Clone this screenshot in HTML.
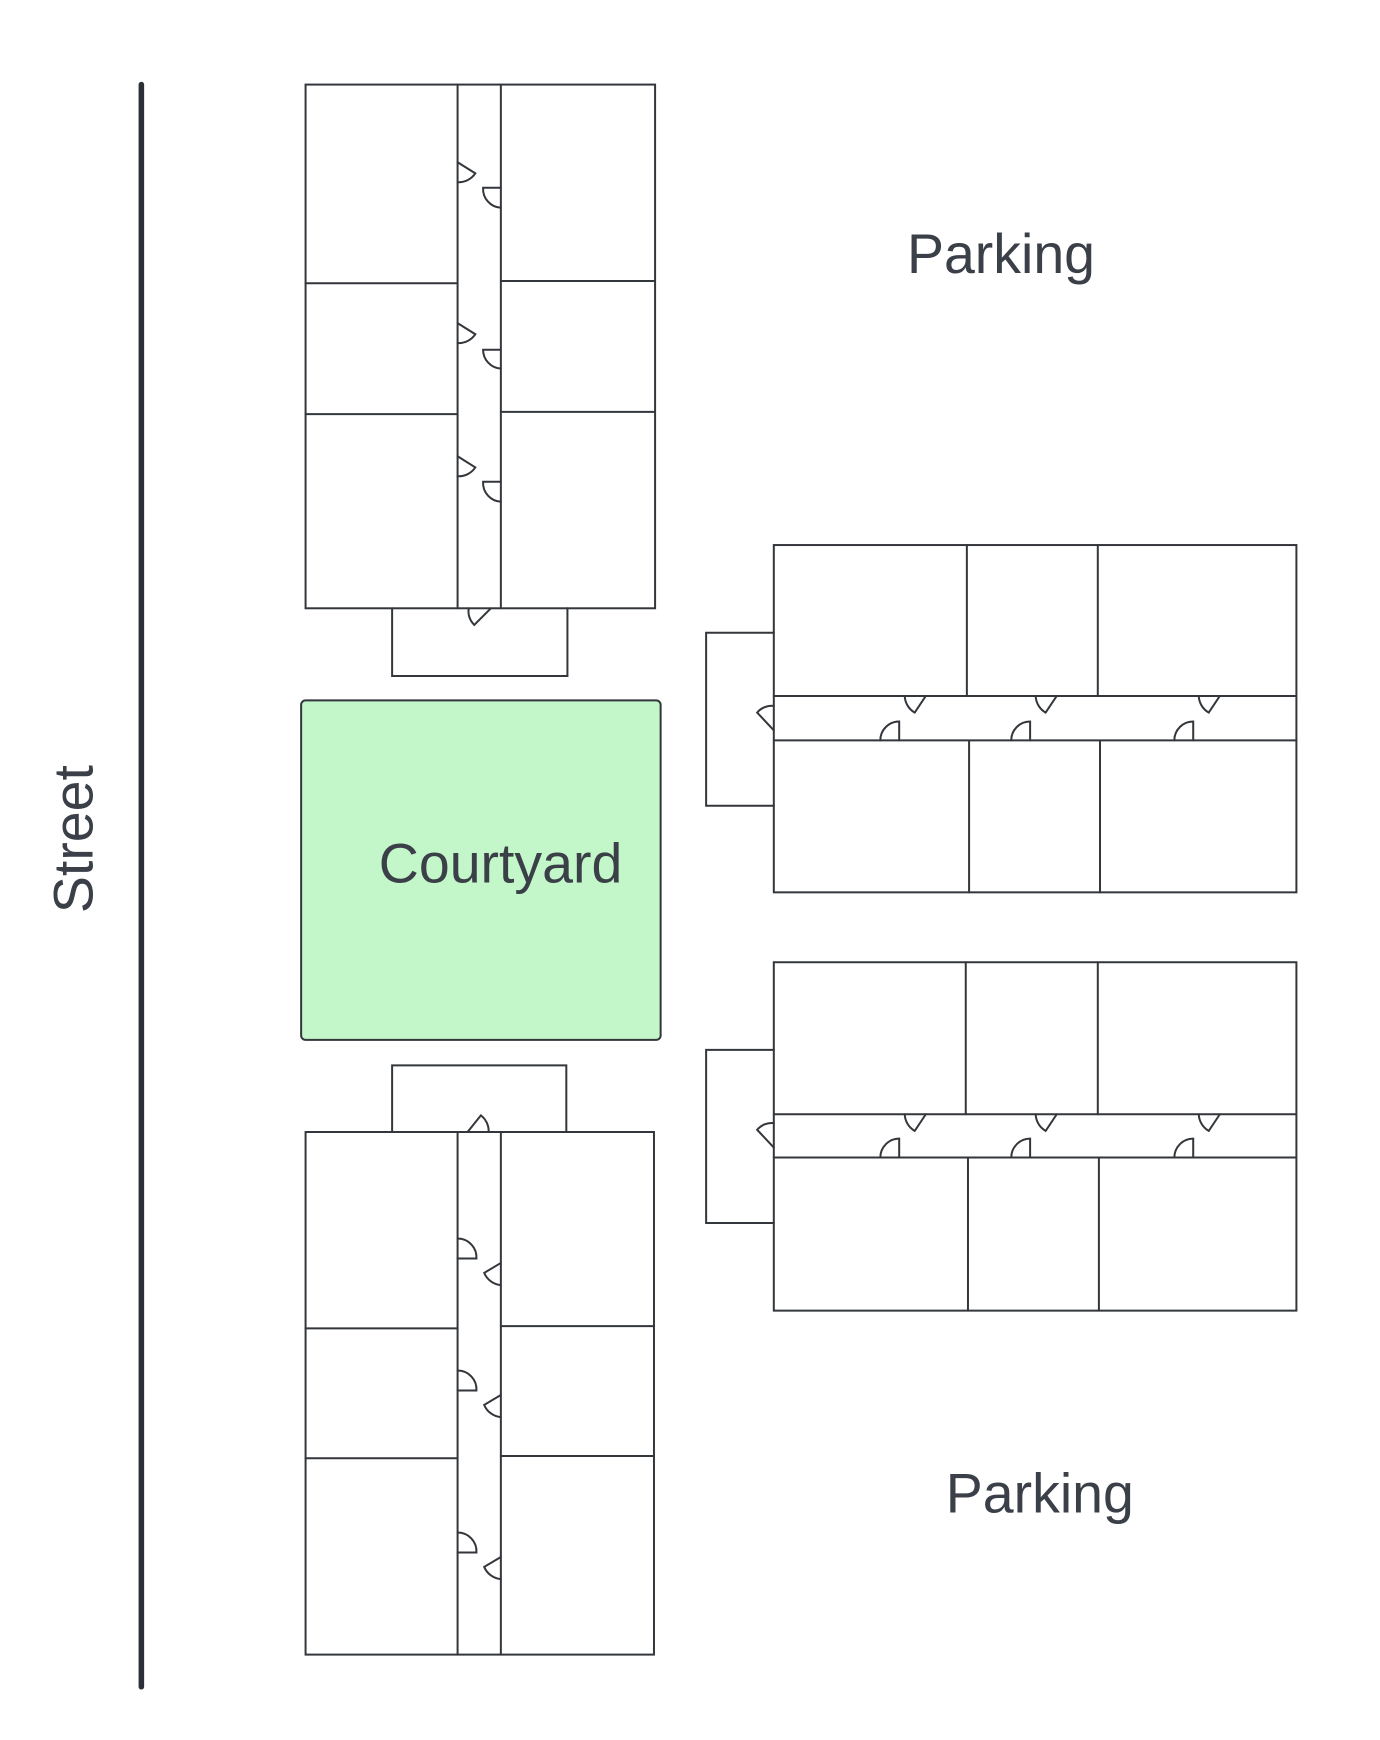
<!DOCTYPE html>
<html><head><meta charset="utf-8"><style>
html,body{margin:0;padding:0;background:#fff;}
svg{display:block;}
text{font-family:"Liberation Sans",sans-serif;fill:#3a3f48;}
</style></head><body>
<svg width="1380" height="1740" viewBox="-0.38 -0.23 1243.7 1568.2" xmlns="http://www.w3.org/2000/svg">
<g fill="none" stroke="#33363b" stroke-width="1.8" stroke-linecap="round">
<line x1="127" y1="76" x2="127" y2="1520" stroke="#2b2f36" stroke-width="5"/>

<rect x="275" y="76" width="315" height="472"/>
<line x1="412" y1="76" x2="412" y2="548"/><line x1="451" y1="76" x2="451" y2="548"/>
<line x1="275" y1="255" x2="412" y2="255"/><line x1="275" y1="373" x2="412" y2="373"/>
<line x1="451" y1="253" x2="590" y2="253"/><line x1="451" y1="371" x2="590" y2="371"/>
<path d="M412 146 L428 156 A18 18 0 0 1 412 164"/>
<path d="M451 169 L435 169 A17 17 0 0 0 451 187"/>
<path d="M412 291 L428 301 A18 18 0 0 1 412 309"/>
<path d="M451 315 L435 315 A17 17 0 0 0 451 332"/>
<path d="M412 411 L428 421 A18 18 0 0 1 412 429"/>
<path d="M451 434 L435 434 A17 17 0 0 0 451 452"/>
<polyline points="353,548 353,609 511,609 511,548"/>
<path d="M422 548 A18 18 0 0 0 427 563 L442 548"/>

<rect x="271" y="631" width="324" height="306" rx="4" fill="#c3f6c8"/>

<polyline points="353,1020 353,960 510,960 510,1020"/>
<rect x="275" y="1020" width="314" height="471"/>
<line x1="412" y1="1020" x2="412" y2="1491"/><line x1="451" y1="1020" x2="451" y2="1491"/>
<line x1="275" y1="1197" x2="412" y2="1197"/><line x1="275" y1="1314" x2="412" y2="1314"/>
<line x1="451" y1="1195" x2="589" y2="1195"/><line x1="451" y1="1312" x2="589" y2="1312"/>
<path d="M421 1020 L433 1005 A18 18 0 0 1 440 1020"/>
<path d="M412 1116 A17 17 0 0 1 429 1134 L412 1134"/>
<path d="M451 1138 L436 1147 A18 18 0 0 0 451 1158"/>
<path d="M412 1235 A17 17 0 0 1 429 1253 L412 1253"/>
<path d="M451 1257 L436 1266 A18 18 0 0 0 451 1277"/>
<path d="M412 1381 A17 17 0 0 1 429 1399 L412 1399"/>
<path d="M451 1403 L436 1412 A18 18 0 0 0 451 1423"/>

<rect x="697" y="491" width="471" height="313"/>
<line x1="697" y1="627" x2="1168" y2="627"/><line x1="697" y1="667" x2="1168" y2="667"/>
<line x1="871" y1="491" x2="871" y2="627"/><line x1="989" y1="491" x2="989" y2="627"/>
<line x1="873" y1="667" x2="873" y2="804"/><line x1="991" y1="667" x2="991" y2="804"/>
<polyline points="697,570 636,570 636,726 697,726"/>
<path d="M697 636 A17 17 0 0 0 682 642 L697 658"/>
<path d="M815 627 A18 18 0 0 0 824 642 L834 627"/>
<path d="M933 627 A18 18 0 0 0 942 642 L952 627"/>
<path d="M1080 627 A18 18 0 0 0 1089 642 L1099 627"/>
<path d="M793 667 A17 17 0 0 1 810 650 L810 667"/>
<path d="M911 667 A17 17 0 0 1 928 650 L928 667"/>
<path d="M1058 667 A17 17 0 0 1 1075 650 L1075 667"/>

<rect x="697" y="867" width="471" height="314"/>
<line x1="697" y1="1004" x2="1168" y2="1004"/><line x1="697" y1="1043" x2="1168" y2="1043"/>
<line x1="870" y1="867" x2="870" y2="1004"/><line x1="989" y1="867" x2="989" y2="1004"/>
<line x1="872" y1="1043" x2="872" y2="1181"/><line x1="990" y1="1043" x2="990" y2="1181"/>
<polyline points="697,946 636,946 636,1102 697,1102"/>
<path d="M697 1012 A17 17 0 0 0 682 1018 L697 1034"/>
<path d="M815 1004 A18 18 0 0 0 824 1019 L834 1004"/>
<path d="M933 1004 A18 18 0 0 0 942 1019 L952 1004"/>
<path d="M1080 1004 A18 18 0 0 0 1089 1019 L1099 1004"/>
<path d="M793 1043 A17 17 0 0 1 810 1026 L810 1043"/>
<path d="M911 1043 A17 17 0 0 1 928 1026 L928 1043"/>
<path d="M1058 1043 A17 17 0 0 1 1075 1026 L1075 1043"/>
</g>

<text x="341" y="795" font-size="50">Courtyard</text>
<text x="817" y="246" font-size="50">Parking</text>
<text x="852" y="1363" font-size="50">Parking</text>
<text transform="translate(83,756) rotate(-90)" text-anchor="middle" font-size="50">Street</text>
</svg>
</body></html>
